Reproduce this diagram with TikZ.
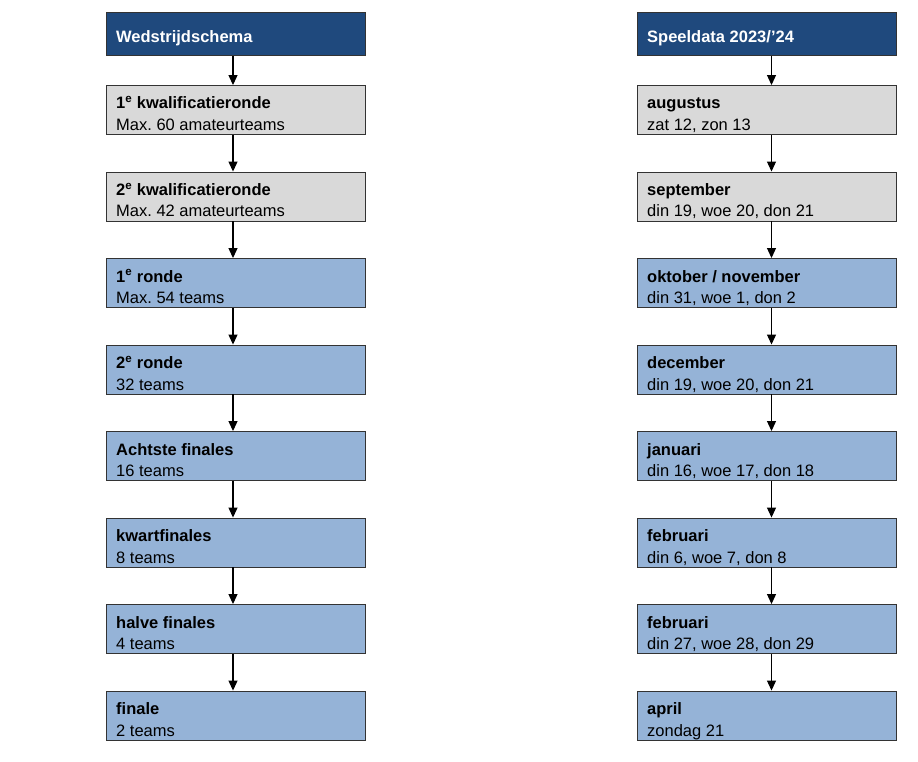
\documentclass[tikz,border=0pt]{standalone}
\usepackage{fontspec}
\setmainfont{Liberation Sans}
\usetikzlibrary{arrows.meta}
\definecolor{headblue}{HTML}{1F497D}
\definecolor{stagegray}{HTML}{D9D9D9}
\definecolor{stageblue}{HTML}{95B3D7}
\frenchspacing

\begin{document}
\begin{tikzpicture}[x=1pt,y=-1pt,
	box/.style={draw=black!80,line width=0.9pt,minimum width=259pt,minimum height=49pt,inner sep=0pt},
	head/.style={box,fill=headblue,minimum height=43pt},
	txt/.style={anchor=base west,inner sep=0pt,font=\fontsize{16.5}{19}\selectfont},
	title/.style={txt,font=\fontsize{16.5}{19}\selectfont\bfseries},
	arr/.style={line width=1.1pt,-{Triangle[width=9pt,length=10pt]}}]
	\useasboundingbox (0,0) rectangle (918,762);

	\node[head] (ws) at (235.5,34) {};
	\node[title,text=white] (wst) at (116,42.5) {Wedstrijdschema};
	\node[box,fill=stagegray] (kw1) at (235.5,110) {};
	\node[title] (kw1a) at (116,109) {1\textsuperscript{e} kwalificatieronde};
	\node[txt] (kw1b) at (116,130.5) {Max. 60 amateurteams};
	\node[box,fill=stagegray] (kw2) at (235.5,196.5) {};
	\node[title] (kw2a) at (116,195.5) {2\textsuperscript{e} kwalificatieronde};
	\node[txt] (kw2b) at (116,217) {Max. 42 amateurteams};
	\node[box,fill=stageblue] (r1) at (235.5,283) {};
	\node[title] (r1a) at (116,282) {1\textsuperscript{e} ronde};
	\node[txt] (r1b) at (116,303.5) {Max. 54 teams};
	\node[box,fill=stageblue] (r2) at (235.5,369.5) {};
	\node[title] (r2a) at (116,368.5) {2\textsuperscript{e} ronde};
	\node[txt] (r2b) at (116,390) {32 teams};
	\node[box,fill=stageblue] (af) at (235.5,456) {};
	\node[title] (afa) at (116,455) {Achtste finales};
	\node[txt] (afb) at (116,476.5) {16 teams};
	\node[box,fill=stageblue] (kf) at (235.5,542.5) {};
	\node[title] (kfa) at (116,541.5) {kwartfinales};
	\node[txt] (kfb) at (116,563) {8 teams};
	\node[box,fill=stageblue] (hf) at (235.5,629) {};
	\node[title] (hfa) at (116,628) {halve finales};
	\node[txt] (hfb) at (116,649.5) {4 teams};
	\node[box,fill=stageblue] (fin) at (235.5,715.5) {};
	\node[title] (fina) at (116,714.5) {finale};
	\node[txt] (finb) at (116,736) {2 teams};

	\node[head] (sd) at (766.5,34) {};
	\node[title,text=white] (sdt) at (647,42.5) {Speeldata 2023/’24};
	\node[box,fill=stagegray] (aug) at (766.5,110) {};
	\node[title] (auga) at (647,109) {augustus};
	\node[txt] (augb) at (647,130.5) {zat 12, zon 13};
	\node[box,fill=stagegray] (sep) at (766.5,196.5) {};
	\node[title] (sepa) at (647,195.5) {september};
	\node[txt] (sepb) at (647,217) {din 19, woe 20, don 21};
	\node[box,fill=stageblue] (okt) at (766.5,283) {};
	\node[title] (okta) at (647,282) {oktober / november};
	\node[txt] (oktb) at (647,303.5) {din 31, woe 1, don 2};
	\node[box,fill=stageblue] (dec) at (766.5,369.5) {};
	\node[title] (deca) at (647,368.5) {december};
	\node[txt] (decb) at (647,390) {din 19, woe 20, don 21};
	\node[box,fill=stageblue] (jan) at (766.5,456) {};
	\node[title] (jana) at (647,455) {januari};
	\node[txt] (janb) at (647,476.5) {din 16, woe 17, don 18};
	\node[box,fill=stageblue] (feba) at (766.5,542.5) {};
	\node[title] (febaa) at (647,541.5) {februari};
	\node[txt] (febab) at (647,563) {din 6, woe 7, don 8};
	\node[box,fill=stageblue] (febb) at (766.5,629) {};
	\node[title] (febba) at (647,628) {februari};
	\node[txt] (febbb) at (647,649.5) {din 27, woe 28, don 29};
	\node[box,fill=stageblue] (apr) at (766.5,715.5) {};
	\node[title] (apra) at (647,714.5) {april};
	\node[txt] (aprb) at (647,736) {zondag 21};

	\draw[arr] ([xshift=-2.5pt]ws.south) -- ([xshift=-2.5pt]kw1.north);
	\draw[arr] ([xshift=-2.5pt]kw1.south) -- ([xshift=-2.5pt]kw2.north);
	\draw[arr] ([xshift=-2.5pt]kw2.south) -- ([xshift=-2.5pt]r1.north);
	\draw[arr] ([xshift=-2.5pt]r1.south) -- ([xshift=-2.5pt]r2.north);
	\draw[arr] ([xshift=-2.5pt]r2.south) -- ([xshift=-2.5pt]af.north);
	\draw[arr] ([xshift=-2.5pt]af.south) -- ([xshift=-2.5pt]kf.north);
	\draw[arr] ([xshift=-2.5pt]kf.south) -- ([xshift=-2.5pt]hf.north);
	\draw[arr] ([xshift=-2.5pt]hf.south) -- ([xshift=-2.5pt]fin.north);

	\draw[arr] ([xshift=5pt]sd.south) -- ([xshift=5pt]aug.north);
	\draw[arr] ([xshift=5pt]aug.south) -- ([xshift=5pt]sep.north);
	\draw[arr] ([xshift=5pt]sep.south) -- ([xshift=5pt]okt.north);
	\draw[arr] ([xshift=5pt]okt.south) -- ([xshift=5pt]dec.north);
	\draw[arr] ([xshift=5pt]dec.south) -- ([xshift=5pt]jan.north);
	\draw[arr] ([xshift=5pt]jan.south) -- ([xshift=5pt]feba.north);
	\draw[arr] ([xshift=5pt]feba.south) -- ([xshift=5pt]febb.north);
	\draw[arr] ([xshift=5pt]febb.south) -- ([xshift=5pt]apr.north);
\end{tikzpicture}
\end{document}
